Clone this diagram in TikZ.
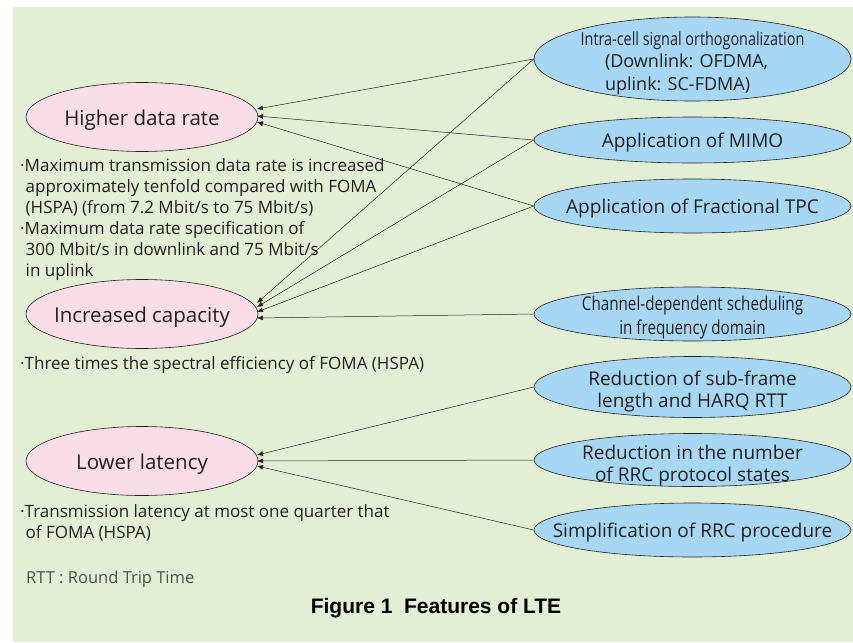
\documentclass[tikz,border=0pt]{standalone}
\usepackage{fontspec}
\setmainfont{Open Sans}
\newfontfamily\condfont[FakeStretch=0.8]{Open Sans}
\newfontfamily\capfont{Liberation Sans}
\usetikzlibrary{shapes.geometric,arrows.meta}

\definecolor{bggreen}{RGB}{226,239,213}
\definecolor{goalpink}{RGB}{250,221,230}
\definecolor{techblue}{RGB}{166,216,245}
\definecolor{inkgray}{RGB}{35,31,32}
\definecolor{notegray}{RGB}{80,80,80}

\newcommand{\bul}{\textperiodcentered}
\newcommand{\ind}{\hspace*{5.5pt}}

\begin{document}
\begin{tikzpicture}[x=1pt,y=-1pt,
  % ellipses keep a fixed size; their text is set as a centred label
  bubble/.style={ellipse, draw=inkgray, line width=0.6pt, inner sep=0pt},
  inside/.style={inner sep=0pt, align=center, text=inkgray},
  goal/.style 2 args={bubble, fill=goalpink, minimum width=232pt, minimum height=69pt,
    label={[inside, yshift=-3pt, font=\fontsize{20.5}{24}\selectfont]center:#2}, #1},
  tech/.style 2 args={bubble, fill=techblue, minimum width=317pt,
    label={[inside, yshift=-3pt, font=\fontsize{19}{22}\selectfont, #1]center:#2}},
  link/.style={-{Latex[length=6pt,width=5pt]}, line width=0.5pt, draw=inkgray},
  note/.style={anchor=base west, align=left, inner sep=0pt,
    text=inkgray, font=\fontsize{17}{21}\selectfont}]

% canvas
\useasboundingbox (0,0) rectangle (853,642);
\fill[bggreen] (13,7) rectangle (853,642);

% goals
\node[goal={}{Higher data rate}]   (rate) at (142,117) {};
\node[goal={}{Increased capacity}] (cap)  at (142,314) {};
\node[goal={}{Lower latency}]      (lat)  at (142,461) {};

% techniques
\node[tech={font=\fontsize{18}{22.5}\selectfont, yshift=-1pt}{%
   {\condfont Intra-cell signal orthogonalization}\\
   \makebox[175pt][l]{(Downlink: OFDMA,}\\
   \makebox[175pt][l]{uplink: SC-FDMA)}},
   minimum height=84pt] (ofdma) at (692.5,59) {};
\node[tech={}{Application of MIMO}, minimum height=46pt] (mimo) at (692.5,140) {};
\node[tech={}{Application of Fractional TPC}, minimum height=54pt] (tpc) at (692.5,206) {};
\node[tech={font=\condfont\fontsize{19}{24}\selectfont, yshift=-1pt}%
   {Channel-dependent scheduling\\in frequency domain},
   minimum height=54pt] (sched) at (692.5,314) {};
\node[tech={yshift=-1.5pt}{Reduction of sub-frame\\length and HARQ RTT},
   minimum height=61pt] (frame) at (692.5,387) {};
\node[tech={yshift=-2.5pt}{Reduction in the number\\of RRC protocol states},
   minimum height=53pt] (rrcs) at (692.5,460) {};
\node[tech={}{Simplification of RRC procedure},
   minimum height=54pt] (rrcp) at (692.5,530) {};

% arrow end points on the goal ellipses
\coordinate (r1) at (257,109);
\coordinate (r2) at (257,116);
\coordinate (r3) at (257,122);
\coordinate (c1) at (257,303);
\coordinate (c2) at (257,307);
\coordinate (c3) at (257,312);
\coordinate (c4) at (257,318);
\coordinate (l1) at (257,455);
\coordinate (l2) at (257,461);
\coordinate (l3) at (257,466);

\draw[link] (ofdma.west) -- (r1);
\draw[link] (mimo.west)  -- (r2);
\draw[link] (tpc.west)   -- (r3);
\draw[link] (ofdma.west) -- (c1);
\draw[link] (mimo.west)  -- (c2);
\draw[link] (tpc.west)   -- (c3);
\draw[link] (sched.west) -- (c4);
\draw[link] (frame.west) -- (l1);
\draw[link] (rrcs.west)  -- (l2);
\draw[link] (rrcp.west)  -- (l3);

% notes (anchored at the baseline of their last line)
\node[note] (n1) at (20,276) {%
  \bul Maximum transmission data rate is increased\\
  \ind approximately tenfold compared with FOMA\\
  \ind (HSPA) (from 7.2 Mbit/s to 75 Mbit/s)\\
  \bul Maximum data rate specification of\\
  \ind 300 Mbit/s in downlink and 75 Mbit/s\\
  \ind in uplink};
\node[note] (n2) at (20,369)
  {\bul Three times the spectral efficiency of FOMA (HSPA)};
\node[note] (n3) at (20,538) {%
  \bul Transmission latency at most one quarter that\\
  \ind of FOMA (HSPA)};
\node[note, text=notegray, font=\fontsize{16.5}{20}\selectfont] (rtt) at (26,583) {RTT : Round Trip Time};

\node[anchor=base, inner sep=0pt, font=\capfont\bfseries\fontsize{21}{24}\selectfont]
  (title) at (436,613) {Figure 1\ \ Features of LTE};
\end{tikzpicture}
\end{document}
